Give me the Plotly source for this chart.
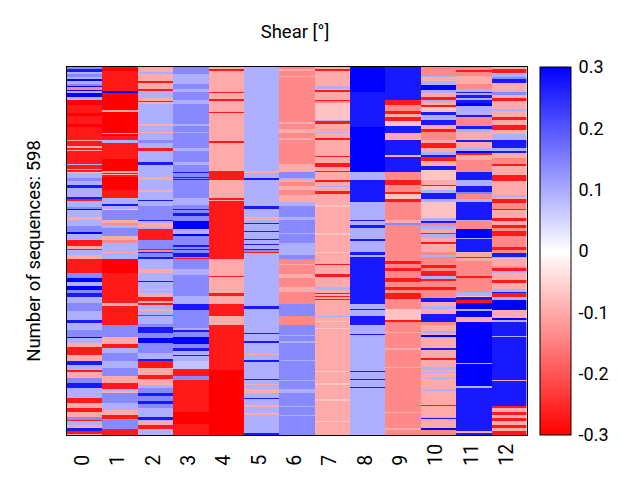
import numpy as np
import plotly.graph_objects as go

# Shear levels
r, s, m, l, W = -0.30, -0.27, -0.14, -0.10, -0.07
P, L, M, S, B = 0.07, 0.094, 0.14, 0.27, 0.30

# Each column: (last row of the band, shear value)
col_0 = [(4,M),(8,S),(12,L),(16,M),(19,L),(22,B),(27,L),(31,M),(33,B),(37,m),(39,B),(42,L),(49,B),(53,L),(62,r),(75,s),(80,r),(92,s),(97,r),(118,s),(120,l),(129,s),(132,l),(135,s),(137,l),(157,s),(159,L),(165,s),(167,l),(170,s),(173,W),(180,L),(186,M),(192,L),(196,S),(200,L),(211,L),(215,S),(218,s),(227,L),(230,M),(233,B),(243,L),(249,l),(258,L),(268,M),(271,B),(281,L),(291,s),(295,l),(298,s),(306,L),(312,l),(334,s),(343,M),(349,B),(356,L),(362,B),(368,M),(373,S),(384,L),(396,M),(411,L),(416,S),(427,L),(438,M),(441,B),(449,L),(455,l),(468,s),(478,l),(484,S),(492,L),(495,s),(505,l),(514,M),(522,S),(538,L),(546,s),(554,l),(560,s),(568,l),(573,M),(576,s),(581,L),(587,l),(592,S),(596,s),(598,l)]
col_1 = [(2,s),(6,r),(39,s),(42,B),(70,r),(73,l),(107,r),(109,l),(112,r),(119,s),(124,L),(150,s),(169,r),(172,l),(174,s),(176,l),(178,s),(200,r),(213,s),(222,L),(226,S),(231,L),(233,W),(249,M),(254,l),(257,m),(262,L),(275,M),(281,l),(286,m),(300,L),(303,l),(312,L),(334,r),(384,s),(389,l),(411,s),(419,s),(439,M),(450,l),(457,s),(465,L),(478,M),(489,L),(502,M),(514,l),(523,s),(527,L),(529,l),(546,M),(557,L),(565,l),(572,s),(589,M),(598,s)]
col_2 = [(8,l),(11,L),(23,l),(26,s),(35,l),(39,s),(50,L),(55,l),(57,s),(60,l),(93,L),(96,l),(105,L),(107,l),(119,L),(123,M),(132,L),(136,s),(154,L),(155,l),(159,S),(178,L),(183,l),(200,L),(203,l),(216,L),(218,S),(226,L),(248,M),(250,S),(254,L),(260,l),(264,L),(281,s),(284,M),(285,S),(295,M),(297,s),(300,m),(303,S),(308,M),(312,S),(329,L),(335,l),(348,L),(350,S),(361,L),(363,l),(368,L),(373,l),(381,s),(384,l),(386,s),(394,L),(397,l),(403,L),(405,s),(411,L),(417,L),(423,M),(433,S),(441,M),(449,B),(465,M),(475,L),(477,S),(489,s),(500,l),(507,s),(516,l),(522,L),(529,M),(534,S),(543,M),(547,S),(554,M),(569,L),(573,S),(576,L),(581,l),(589,s),(598,L)]
col_3 = [(11,M),(27,L),(35,M),(41,L),(54,M),(60,L),(93,M),(96,L),(105,M),(108,L),(131,M),(136,L),(154,M),(159,L),(170,M),(173,S),(178,M),(180,S),(182,M),(184,S),(200,M),(213,M),(224,L),(231,M),(233,S),(238,M),(242,S),(250,M),(264,B),(271,L),(275,B),(289,M),(292,S),(296,M),(298,S),(303,M),(308,S),(310,M),(312,s),(328,M),(338,L),(372,M),(385,L),(395,S),(411,M),(424,M),(427,L),(430,S),(439,M),(450,B),(457,M),(461,S),(468,L),(470,S),(478,L),(491,P),(502,s),(508,M),(560,s),(580,r),(598,s)]
col_4 = [(4,l),(7,s),(41,l),(42,s),(52,l),(55,s),(73,l),(75,s),(107,l),(108,s),(120,l),(123,s),(169,l),(184,s),(200,l),(213,l),(216,s),(218,l),(312,s),(340,l),(342,s),(368,l),(372,s),(385,l),(405,s),(411,l),(419,l),(492,s),(598,r)]
col_5 = [(169,L),(173,l),(180,L),(184,S),(200,L),(226,L),(231,S),(243,L),(248,l),(253,L),(255,S),(266,L),(268,S),(279,L),(281,S),(287,L),(289,S),(295,L),(297,S),(300,M),(303,s),(389,L),(391,S),(392,l),(394,S),(411,L),(433,L),(434,S),(445,L),(448,S),(466,L),(468,l),(476,L),(479,S),(480,l),(507,L),(508,S),(515,L),(516,l),(523,L),(529,l),(538,L),(540,S),(550,L),(552,l),(562,L),(565,l),(595,L),(598,S)]
col_6 = [(4,m),(6,l),(15,m),(16,l),(89,m),(92,l),(100,m),(108,l),(116,m),(119,l),(157,m),(170,l),(181,M),(184,L),(187,l),(194,m),(200,l),(208,m),(219,l),(226,L),(243,M),(248,L),(270,M),(272,L),(286,M),(305,L),(312,M),(320,m),(322,l),(336,m),(343,l),(358,m),(365,l),(385,m),(405,M),(411,m),(419,m),(435,M),(437,L),(446,M),(448,L),(476,M),(477,L),(508,M),(510,L),(524,M),(529,L),(551,M),(553,L),(565,M),(567,L),(598,M)]
col_7 = [(4,l),(7,s),(31,l),(35,L),(38,l),(40,s),(53,l),(55,s),(59,m),(86,W),(88,L),(92,s),(100,l),(103,L),(105,l),(107,L),(115,l),(119,s),(145,l),(146,s),(156,l),(162,s),(169,l),(171,s),(184,l),(187,s),(193,l),(195,L),(200,l),(202,l),(206,s),(215,l),(225,l),(228,W),(270,l),(273,W),(300,l),(303,W),(320,l),(322,s),(337,l),(341,s),(358,l),(363,L),(367,l),(369,s),(372,l),(374,s),(377,l),(378,s),(404,l),(407,L),(411,l),(413,l),(415,W),(424,l),(426,W),(494,l),(496,W),(513,l),(517,W),(539,l),(542,W),(575,l),(577,W),(598,l)]
col_8 = [(16,B),(41,B),(59,S),(97,S),(170,B),(184,L),(200,S),(219,S),(249,L),(250,S),(257,L),(261,S),(280,L),(282,S),(300,L),(305,S),(308,L),(385,S),(393,L),(395,S),(404,L),(411,S),(419,S),(434,L),(435,S),(494,L),(495,S),(507,L),(508,S),(520,L),(521,S),(578,L),(579,S),(598,L)]
col_9 = [(54,S),(61,s),(71,m),(76,s),(82,l),(87,s),(96,W),(108,S),(119,l),(143,S),(146,l),(170,S),(184,m),(192,s),(200,m),(203,m),(206,s),(215,W),(219,s),(249,m),(254,l),(257,M),(316,m),(320,s),(327,m),(331,s),(343,m),(349,s),(357,m),(362,s),(367,m),(377,s),(394,m),(411,W),(414,s),(430,m),(433,l),(457,m),(460,l),(487,m),(489,l),(560,m),(562,l),(587,m),(590,l),(598,m)]
col_10 = [(14,m),(16,L),(22,l),(30,L),(38,B),(43,L),(49,l),(53,s),(57,L),(62,l),(65,s),(73,W),(78,S),(86,L),(95,S),(100,l),(105,s),(119,m),(124,l),(131,s),(138,l),(143,L),(147,S),(153,s),(161,l),(167,S),(184,W),(192,l),(194,s),(200,W),(205,L),(214,S),(219,L),(246,W),(250,L),(253,S),(259,m),(263,L),(270,l),(272,s),(278,L),(285,l),(287,s),(300,l),(305,m),(308,L),(322,m),(327,s),(332,m),(340,s),(345,L),(347,s),(357,m),(362,s),(376,m),(382,S),(389,l),(393,L),(401,l),(411,S),(414,S),(419,m),(429,l),(432,L),(435,l),(438,B),(441,L),(457,l),(460,S),(473,l),(476,s),(487,l),(492,L),(496,l),(498,L),(505,l),(507,L),(524,l),(527,L),(549,l),(551,s),(560,l),(561,s),(568,l),(570,L),(572,S),(575,l),(576,S),(587,l),(590,B),(598,m)]
col_11 = [(5,m),(8,s),(14,m),(27,l),(35,m),(41,L),(43,S),(46,L),(51,S),(54,L),(59,S),(64,B),(78,L),(82,S),(96,m),(100,S),(105,L),(119,l),(122,S),(131,l),(136,L),(139,B),(143,s),(151,l),(170,m),(184,S),(194,L),(200,S),(203,S),(206,M),(214,m),(219,L),(249,S),(251,L),(263,m),(278,B),(280,L),(300,S),(308,l),(311,s),(316,l),(339,m),(343,s),(365,m),(372,L),(374,W),(378,S),(383,s),(385,S),(394,B),(396,L),(406,B),(411,l),(415,l),(481,B),(483,L),(519,B),(522,L),(592,S),(595,l),(598,S)]
col_12 = [(4,l),(10,s),(16,L),(19,M),(26,S),(41,l),(46,M),(51,l),(55,s),(69,l),(71,L),(81,l),(86,s),(95,l),(102,s),(109,l),(119,L),(132,S),(136,L),(140,S),(148,l),(157,m),(161,s),(175,l),(185,s),(200,l),(208,l),(211,L),(215,l),(221,s),(230,m),(233,s),(246,l),(250,s),(257,l),(262,s),(266,m),(275,s),(292,m),(297,s),(302,m),(308,S),(311,L),(323,l),(327,m),(331,s),(335,L),(346,l),(351,s),(361,l),(365,L),(368,S),(373,s),(378,L),(395,B),(408,l),(411,B),(415,L),(437,S),(439,L),(508,S),(510,l),(551,S),(554,s),(560,l),(565,s),(570,l),(576,s),(581,l),(587,s),(592,l),(598,s)]

columns = [col_0, col_1, col_2, col_3, col_4, col_5, col_6, col_7, col_8, col_9, col_10, col_11, col_12]
x_positions = list(range(13))
# figure space keeps one-digit labels starting at the same height as two-digit ones
x_labels = [str(i) + "\u2007" if i < 10 else str(i) for i in x_positions]
n_sequences = 598
cbar_ticks = [-0.3, -0.2, -0.1, 0, 0.1, 0.2, 0.3]
cbar_labels = ["-0.3", "-0.2", "-0.1", "0", "0.1", "0.2", "0.3"]


def expand(bands):
    out = np.zeros(n_sequences)
    start = 0
    for end, value in bands:
        out[start:end] = value
        start = end
    return out


z = np.column_stack([expand(c) for c in columns])

fig = go.Figure(go.Heatmap(
    z=z,
    x=x_positions,
    y=list(range(n_sequences)),
    zmin=-0.3,
    zmax=0.3,
    zsmooth=False,
    colorscale=[[0, "#ff0000"], [0.5, "#ffffff"], [1, "#0000ff"]],
    colorbar=dict(
        thickness=31, thicknessmode="pixels", len=1, lenmode="fraction",
        x=532 / 640, xref="container", xanchor="left", xpad=0,
        y=0.5, yanchor="middle", ypad=0,
        outlinecolor="black", outlinewidth=1,
        tickmode="array", tickvals=cbar_ticks, ticktext=cbar_labels,
        ticks="outside", ticklen=4, tickcolor="rgba(0,0,0,0)",
        tickfont=dict(size=18, color="black"),
    ),
))
fig.update_layout(
    width=640, height=480,
    margin=dict(l=59, r=120, t=59, b=53, pad=0),
    paper_bgcolor="white", plot_bgcolor="white",
    font=dict(family="Roboto, sans-serif", color="black"),
    title=dict(text="Shear [°]", x=287 / 640, xanchor="center", y=1 - 24 / 480,
               yanchor="middle", font=dict(size=18.5, color="black")),
)
fig.update_xaxes(tickmode="array", tickvals=x_positions, ticktext=x_labels,
                 tickangle=-90, tickfont=dict(size=19.5, color="black"),
                 ticklabelshift=-2,
                 ticks="", showline=True, mirror=True, linecolor="black", linewidth=1,
                 showgrid=False, zeroline=False)
fig.update_yaxes(autorange="reversed", showticklabels=False, ticks="", showline=True,
                 mirror=True, linecolor="black", linewidth=1, showgrid=False, zeroline=False,
                 title=dict(text="Number of sequences: 598", font=dict(size=18.5, color="black"),
                            standoff=20))
fig.write_html("out.html")
